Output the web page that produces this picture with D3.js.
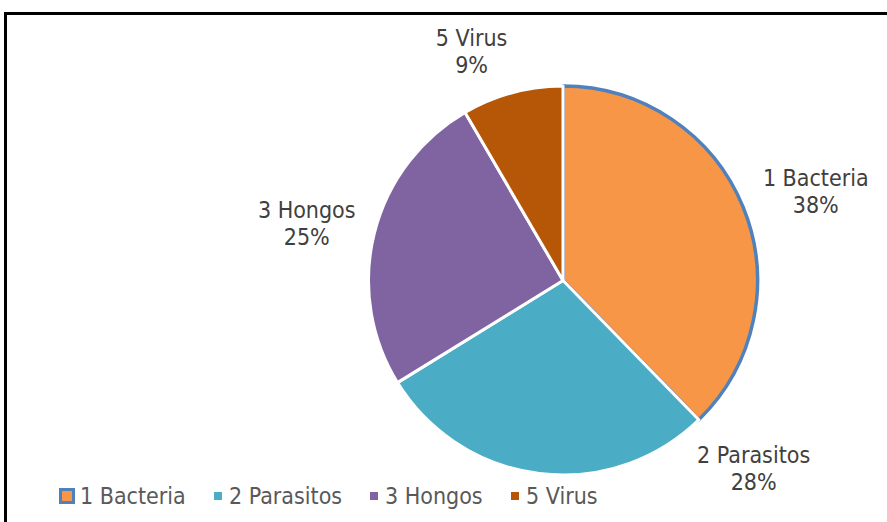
<!DOCTYPE html>
<html><head><meta charset="utf-8">
<script src="https://cdn.jsdelivr.net/npm/d3@7"></script>
<style>
html,body{margin:0;padding:0;background:#fff;}
svg{display:block;}
text{font-family:"DejaVu Sans Condensed","DejaVu Sans",sans-serif;font-stretch:condensed;}
</style></head>
<body>
<svg id="c" width="887" height="522"></svg>
<script>
const categories = ["1 Bacteria","2 Parasitos","3 Hongos","5 Virus"];
const values = [37.7, 28.5, 25.4, 8.4];
const pctLabels = ["38%","28%","25%","9%"];
const colors = ["#F79646","#4BACC6","#8064A2","#B65708"];
// label placement: position within slice (fraction of its angle) and radius factor
const labelAnchor = [0.52, -0.012, 0.484, 0.282];
const labelRadius = [1.378, 1.374, 1.35, 1.27];

const W = 887, H = 522;
const svg = d3.select("#c");
svg.append("rect").attr("x",5.5).attr("y",13.5).attr("width",W+20).attr("height",H+20)
  .attr("fill","#fff").attr("stroke","#000").attr("stroke-width",3);

const cx = 563, cy = 280.5, R = 194.5;
const pie = d3.pie().sort(null).value(d=>d)(values);
const arc = d3.arc().innerRadius(0).outerRadius(R);
const g = svg.append("g").attr("transform",`translate(${cx},${cy})`);

// first slice with blue outline
g.append("path").datum(pie[0]).attr("d",arc).attr("fill",colors[0])
  .attr("stroke","#4F81BD").attr("stroke-width",3.5).attr("stroke-linejoin","round");
// other slices with white borders over it
g.selectAll("path.s").data(pie.slice(1)).join("path").attr("class","s")
  .attr("d",arc).attr("fill",(d,i)=>colors[i+1]).attr("stroke","#fff").attr("stroke-width",3)
  .attr("stroke-linejoin","round");

const lab = g.selectAll("text.l").data(pie).join("text").attr("class","l")
  .attr("text-anchor","middle").style("font-size","23px").style("fill","#404040")
  .attr("transform",(d,i)=>{
    const a = d.startAngle + (d.endAngle-d.startAngle)*labelAnchor[i];
    const r = R*labelRadius[i];
    return `translate(${Math.sin(a)*r},${-Math.cos(a)*r})`;
  });
lab.append("tspan").attr("x",0).attr("dy",-5).text((d,i)=>categories[i]);
lab.append("tspan").attr("x",0).attr("dy",27).text((d,i)=>pctLabels[i]);

// legend
const legX = [59, 214, 370, 511];
const legY = 504;
const lg = svg.append("g");
categories.forEach((c,i)=>{
  const x = legX[i];
  if(i===0){
    lg.append("rect").attr("x",x+1.5).attr("y",legY-14.5).attr("width",13).attr("height",13)
      .attr("fill",colors[i]).attr("stroke","#4F81BD").attr("stroke-width",3);
  } else {
    lg.append("rect").attr("x",x).attr("y",legY-12).attr("width",8).attr("height",8).attr("fill",colors[i]);
  }
  lg.append("text").attr("x", i===0? x+21 : x+15).attr("y",legY).style("font-size","23px")
    .style("fill","#595959").text(c);
});
</script>
</body></html>
